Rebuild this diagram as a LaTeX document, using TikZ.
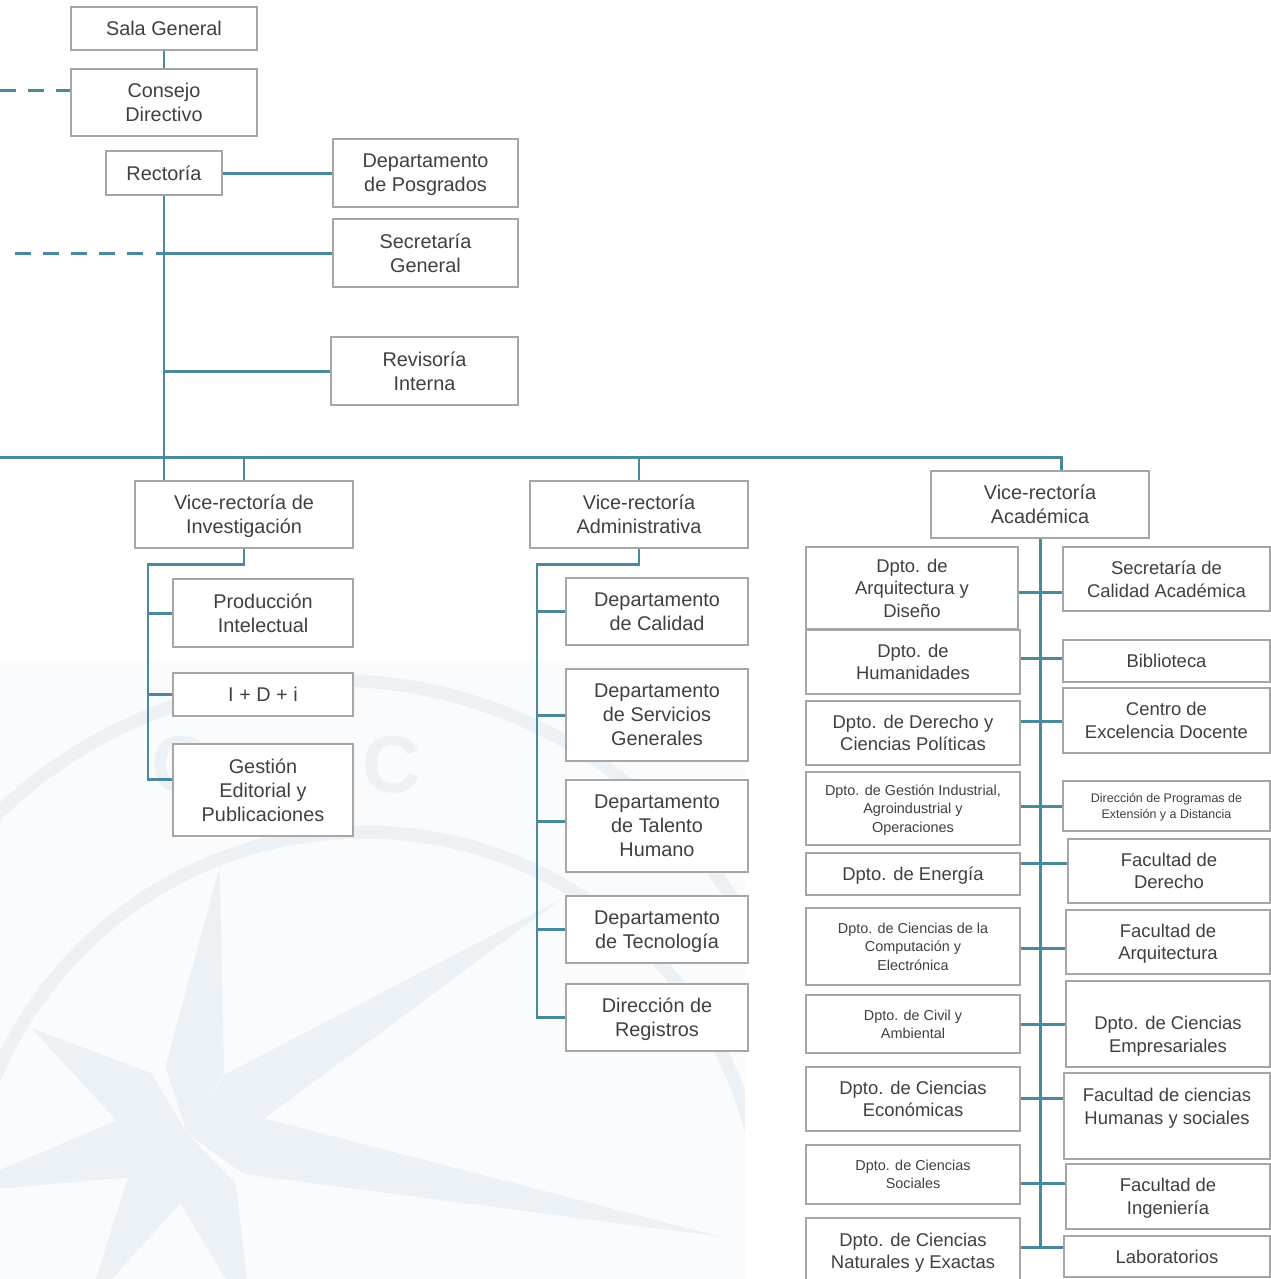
\documentclass[tikz,border=0pt]{standalone}
\usepackage{fontspec}
\setmainfont{Liberation Sans}

\definecolor{linkteal}{RGB}{74,137,155}
\definecolor{boxgray}{RGB}{166,166,166}
\definecolor{txtgray}{RGB}{64,64,64}
\definecolor{wmpanel}{RGB}{250,251,252}
\definecolor{wmmark}{RGB}{236,241,246}

\tikzset{
    box/.style={draw=boxgray, line width=1.3pt, fill=white, text=txtgray, align=center, inner sep=0pt, text depth=0pt},
    wh/.style 2 args={minimum width=#1*0.02cm, minimum height=#2*0.02cm},
    fbig/.style={font=\fontsize{11.3}{13.6}\selectfont},
    fmid/.style={font=\fontsize{10.5}{12.8}\selectfont},
    fsmall/.style={font=\fontsize{8.2}{10.4}\selectfont},
    ftiny/.style={font=\fontsize{7.1}{9}\selectfont},
    link/.style={draw=linkteal, line width=1.7pt},
    dashlink/.style={link, dash pattern=on 9pt off 7pt},
    wmletter/.style={text=wmmark, font=\fontsize{46}{46}\bfseries}
}

\begin{document}
\begin{tikzpicture}[x=0.02cm, y=-0.02cm]
    \useasboundingbox (0,0) rectangle (1271,1279);

    % watermark
    \fill[wmpanel] (0,660) rectangle (745,1279);
    \begin{scope}
        \clip (0,660) rectangle (745,1279);
        \draw[wmmark, line width=7.4pt] (364,1232) circle (400);
        \draw[wmmark, line width=7.4pt] (330,1160) circle (480);
        \foreach \a/\l in {-83/268, -32/440, 11/544, 71/200, 120/200, 166/250, 214/187}
            \fill[wmmark, shift={(187,1133)}] (0,0) -- (\a+25:70) -- (\a:\l) -- (\a-25:70) -- cycle;
        \node[wmletter] (cuca) at (181,765) {C};
        \node[wmletter] (cucb) at (392,765) {C};
    \end{scope}

    % top
    \node[box, fbig, wh={186}{43}] (sala) at (164,28.5) {Sala General};
    \node[box, fbig, wh={186}{67}] (consejo) at (164,102.5) {Consejo\\Directivo};
    \node[box, fbig, wh={116}{44}] (rect) at (164,173) {Rectoría};
    \node[box, fbig, wh={185}{68}] (posg) at (425.5,173) {Departamento\\de Posgrados};
    \node[box, fbig, wh={185}{68}] (secg) at (425.5,253) {Secretaría\\General};
    \node[box, fbig, wh={187}{68}] (revi) at (424.5,371) {Revisoría\\Interna};

    \coordinate (cdl) at (0,90);
    \coordinate (sgl) at (15,253);
    \draw[link] (sala) -- (consejo);
    \draw[dashlink] (cdl) -- (consejo.west |- cdl);
    \draw[link] (rect) -- (posg);
    \draw[dashlink] (sgl) -- (rect.south |- sgl);
    \draw[link] (rect.south |- secg.west) -- (secg.west);
    \draw[link] (rect.south |- revi.west) -- (revi.west);

    % vice-rectorias
    \node[box, fbig, wh={218}{67}] (vinv) at (244,514.5) {Vice-rectoría de\\Investigación};
    \node[box, fbig, wh={218}{67}] (vadm) at (639,514.5) {Vice-rectoría\\Administrativa};
    \node[box, fbig, wh={218}{67}] (vaca) at (1040,504.5) {Vice-rectoría\\Académica};

    \coordinate (barl) at (0,457);
    \coordinate (barr) at (1061,457);
    \draw[link] (rect.south) -- (rect.south |- vinv.north);
    \draw[link] (barl) -- (barr) -- (barr |- vaca.north);
    \draw[link] (vinv.north |- barl) -- (vinv.north);
    \draw[link] (vadm.north |- barl) -- (vadm.north);

    % investigacion
    \node[box, fbig, wh={180}{68}] (prod) at (263,613) {Producción\\Intelectual};
    \node[box, fbig, wh={180}{43}] (idi) at (263,694.5) {I + D + i};
    \node[box, fbig, wh={180}{92}] (gest) at (263,790) {Gestión\\Editorial y\\Publicaciones};

    \coordinate (vi) at (148,564);
    \coordinate (viend) at (148,779);
    \draw[link] (vinv.south) |- (vi) -- (viend) -- (viend -| gest.west);
    \draw[link] (vi |- prod.west) -- (prod.west);
    \draw[link] (vi |- idi.west) -- (idi.west);

    % administrativa
    \node[box, fbig, wh={182}{67}] (cal) at (657,611.5) {Departamento\\de Calidad};
    \node[box, fbig, wh={182}{92}] (serv) at (657,715) {Departamento\\de Servicios\\Generales};
    \node[box, fbig, wh={182}{92}] (tal) at (657,826) {Departamento\\de Talento\\Humano};
    \node[box, fbig, wh={182}{67}] (tec) at (657,929.5) {Departamento\\de Tecnología};
    \node[box, fbig, wh={182}{67}] (reg) at (657,1017.5) {Dirección de\\Registros};

    \coordinate (va) at (537,564);
    \draw[link] (vadm.south) |- (va) -- (va |- reg.west) -- (reg.west);
    \foreach \n in {cal, serv, tec}
        \draw[link] (va |- \n.west) -- (\n.west);
    \draw[link] (va |- 0,821) -- (tal.west |- 0,821);

    % academica, left column
    \node[box, fmid, wh={212}{82}] (arq) at (912,588) {Dpto. de\\Arquitectura y\\Diseño};
    \node[box, fmid, wh={214}{64}] (hum) at (913,662) {Dpto. de\\Humanidades};
    \node[box, fmid, wh={214}{64}] (der) at (913,733) {Dpto. de Derecho y\\Ciencias Políticas};
    \node[box, fsmall, wh={214}{73}] (gin) at (913,808.5) {Dpto. de Gestión Industrial,\\Agroindustrial y\\Operaciones};
    \node[box, fmid, wh={214}{42}] (ene) at (913,874) {Dpto. de Energía};
    \node[box, fsmall, wh={214}{77}] (comp) at (913,946.5) {Dpto. de Ciencias de la\\Computación y\\Electrónica};
    \node[box, fsmall, wh={214}{58}] (civ) at (913,1024) {Dpto. de Civil y\\Ambiental};
    \node[box, fmid, wh={214}{64}] (eco) at (913,1099) {Dpto. de Ciencias\\Económicas};
    \node[box, fsmall, wh={214}{59}] (soc) at (913,1174.5) {Dpto. de Ciencias\\Sociales};
    \node[box, fmid, wh={214}{66}] (nat) at (913,1251) {Dpto. de Ciencias\\Naturales y Exactas};

    % academica, right column
    \node[box, fmid, wh={207}{64}] (scal) at (1166.5,579) {Secretaría de\\Calidad Académica};
    \node[box, fmid, wh={207}{42}] (bib) at (1166.5,661) {Biblioteca};
    \node[box, fmid, wh={207}{65}] (ced) at (1166.5,720.5) {Centro de\\Excelencia Docente};
    \node[box, ftiny, wh={207}{50}] (dpe) at (1166.5,806) {Dirección de Programas de\\Extensión y a Distancia};
    \node[box, fmid, wh={202}{64}] (fder) at (1169,871) {Facultad de\\Derecho};
    \node[box, fmid, wh={204}{64}] (farq) at (1168,942) {Facultad de\\Arquitectura};
    \node[box, wh={204}{86},
        label={[fmid, text=txtgray, align=center, yshift=-0.24cm]center:{Dpto. de Ciencias\\Empresariales}}] (emp) at (1168,1024) {};
    \node[box, fmid, wh={206}{86}, text depth=11pt] (fhum) at (1167,1116) {Facultad de ciencias\\Humanas y sociales};
    \node[box, fmid, wh={204}{65}] (fing) at (1168,1196.5) {Facultad de\\Ingeniería};
    \node[box, fmid, wh={206}{41}] (lab) at (1167,1256.5) {Laboratorios};

    % trunk and branches
    \coordinate (vaend) at (1040,1247);
    \draw[link] (vaca.south) -- (vaend);
    \foreach \l/\r/\y in {arq/scal/592, hum/bib/658, der/ced/721, gin/dpe/806, ene/fder/863,
        comp/farq/948, civ/emp/1024, eco/fhum/1098, soc/fing/1183, nat/lab/1247}
        \draw[link] (\l.east |- 0,\y) -- (\r.west |- 0,\y);
\end{tikzpicture}
\end{document}
